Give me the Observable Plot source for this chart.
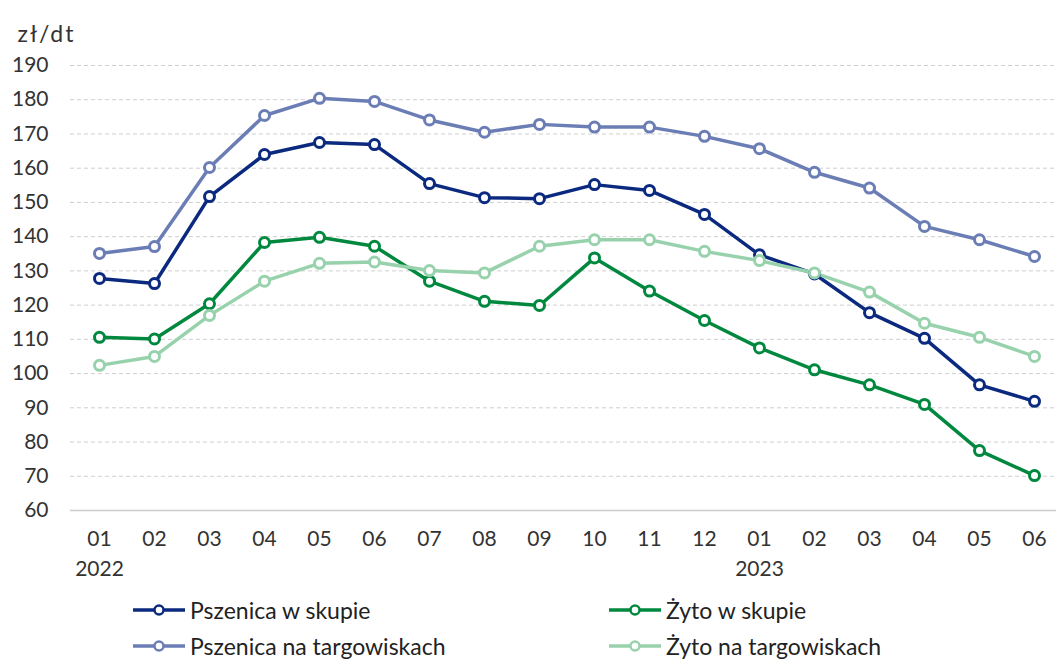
<!DOCTYPE html>
<html>
<head>
<meta charset="utf-8">
<script src="https://cdn.jsdelivr.net/npm/d3@7"></script>
<script src="https://cdn.jsdelivr.net/npm/@observablehq/plot@0.6"></script>
<style>
  html, body { margin: 0; padding: 0; background: #fff; }
  body { width: 1056px; height: 660px; overflow: hidden; font-family: Lato, "Noto Sans", sans-serif; color: #333; }
  #chart svg { display: block; }
  #chart svg .unit text { letter-spacing: 2px; }
  .legend { position: relative; height: 70px; font-size: 23px; color: #222; }
  .item { position: absolute; display: flex; align-items: center; white-space: nowrap; }
  .item svg { margin-right: 5px; }
</style>
</head>
<body>
<div id="chart"></div>
<div class="legend" id="legend"></div>
<script>
const months = ["2022-01","2022-02","2022-03","2022-04","2022-05","2022-06","2022-07","2022-08","2022-09","2022-10","2022-11","2022-12","2023-01","2023-02","2023-03","2023-04","2023-05","2023-06"];
const monthLabels = ["01\n2022","02","03","04","05","06","07","08","09","10","11","12","01\n2023","02","03","04","05","06"];
const seriesNames = ["Pszenica w skupie","Pszenica na targowiskach","Żyto w skupie","Żyto na targowiskach"];
const seriesColors = ["#0b2a7f","#6b7db5","#00883f","#98d2ad"];
const pszenicaSkup = [127.8,126.3,151.7,164.0,167.5,166.9,155.5,151.4,151.1,155.2,153.5,146.5,134.7,129.1,117.8,110.3,96.7,91.9];
const pszenicaTarg = [135.1,137.1,160.2,175.4,180.4,179.5,174.1,170.5,172.8,172.0,172.0,169.3,165.7,158.8,154.2,143.0,139.1,134.2];
const zytoSkup = [110.6,110.1,120.4,138.3,139.8,137.2,127.0,121.1,119.9,133.8,124.1,115.5,107.5,101.1,96.7,91.0,77.5,70.2];
const zytoTarg = [102.4,105.0,117.0,127.0,132.2,132.6,130.1,129.4,137.2,139.1,139.1,135.7,133.0,129.4,123.8,114.7,110.6,105.0];
const yTicks = [60,70,80,90,100,110,120,130,140,150,160,170,180,190];

const allValues = [pszenicaSkup, pszenicaTarg, zytoSkup, zytoTarg];
const data = [];
allValues.forEach((vals, s) => vals.forEach((v, i) => data.push({series: seriesNames[s], month: months[i], value: v})));
const labelOf = new Map(months.map((m, i) => [m, monthLabels[i]]));

const chart = Plot.plot({
  width: 1056,
  height: 590,
  marginTop: 65,
  marginBottom: 80,
  marginLeft: 70,
  marginRight: 0,
  style: {fontFamily: "Lato, 'Noto Sans', sans-serif", fontSize: "21px", color: "#333", background: "#fff"},
  x: {type: "point", domain: months, range: [96, 1037], padding: 0},
  y: {domain: [60, 190], range: [510, 65]},
  color: {domain: seriesNames, range: seriesColors},
  marks: [
    Plot.ruleY(yTicks.filter(d => d > 60), {stroke: "#cfcfcf", strokeWidth: 1, strokeDasharray: "4,3"}),
    Plot.ruleY([60], {stroke: "#cccccc", strokeWidth: 1.5}),
    Plot.axisY({ticks: yTicks, tickSize: 0, tickPadding: 22, fontSize: 21, label: null}),
    Plot.axisX({tickSize: 0, tickPadding: 15, fontSize: 21, lineHeight: 1.4, tickFormat: d => labelOf.get(d), label: null}),
    Plot.text(["zł/dt"], {frameAnchor: "top-left", dx: -53, dy: -40, fontSize: 23, fill: "#333", textAnchor: "start", className: "unit"}),
    Plot.line(data, {x: "month", y: "value", z: "series", stroke: "series", strokeWidth: 3.5}),
    Plot.dot(data, {x: "month", y: "value", stroke: "series", fill: "white", r: 5, strokeWidth: 3})
  ]
});
document.getElementById("chart").appendChild(chart);

// Legend
const legend = document.getElementById("legend");
const positions = [[133, 22], [133, 58], [609, 22], [609, 58]];
seriesNames.forEach((name, i) => {
  const div = document.createElement("div");
  div.className = "item";
  div.style.left = positions[i][0] + "px";
  div.style.top = (positions[i][1] - 16) + "px";
  div.innerHTML = `<svg width="52" height="14"><line x1="0" y1="7" x2="52" y2="7" stroke="${seriesColors[i]}" stroke-width="3.5"/><circle cx="26" cy="7" r="4.5" fill="white" stroke="${seriesColors[i]}" stroke-width="2.5"/></svg><span>${name}</span>`;
  legend.appendChild(div);
});
</script>
</body>
</html>
